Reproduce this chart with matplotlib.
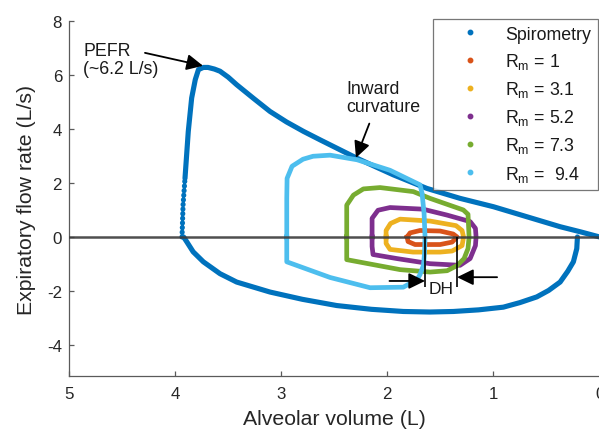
import matplotlib
matplotlib.use("Agg")
import matplotlib.pyplot as plt
from matplotlib.lines import Line2D

plt.rcParams['font.family'] = ['Liberation Sans', 'DejaVu Sans']
plt.rcParams['mathtext.fontset'] = 'custom'
plt.rcParams['mathtext.rm'] = 'Liberation Sans'
plt.rcParams['mathtext.it'] = 'Liberation Sans:italic'
plt.rcParams['axes.unicode_minus'] = False

# Spirometry: expiratory limb (volume decreasing) and inspiratory limb
spiro_exp_vol = [3.935, 3.925, 3.907, 3.876, 3.844, 3.81, 3.78, 3.734, 3.69, 3.63,
                 3.577, 3.50, 3.42, 3.26, 3.106, 2.95, 2.79, 2.63, 2.477, 2.288,
                 2.10, 1.943, 1.629, 1.315, 1.0, 0.686, 0.372, 0.18, 0.0]
spiro_exp_flow = [0.0, 1.2, 2.17, 3.91, 5.15, 5.83, 6.2, 6.28, 6.28, 6.22,
                  6.14, 5.92, 5.64, 5.13, 4.65, 4.26, 3.91, 3.59, 3.29, 2.92,
                  2.58, 2.30, 1.80, 1.43, 1.12, 0.75, 0.38, 0.19, 0.0]
spiro_insp_vol = [3.92, 3.89, 3.83, 3.734, 3.577, 3.42, 3.106, 2.80, 2.477, 2.15,
                  1.849, 1.60, 1.378, 1.14, 0.907, 0.75, 0.592, 0.48, 0.372, 0.30,
                  0.247, 0.215, 0.209]
spiro_insp_flow = [0.0, -0.18, -0.55, -0.92, -1.36, -1.67, -2.04, -2.31, -2.54, -2.68,
                   -2.76, -2.78, -2.76, -2.70, -2.60, -2.43, -2.22, -1.98, -1.67, -1.27,
                   -0.92, -0.43, 0.0]

# Simulated tidal loops for increasing Rm
rm1_vol = [1.814, 1.786, 1.692, 1.503, 1.38, 1.343, 1.39, 1.503, 1.739, 1.805, 1.814]
rm1_flow = [0.0, 0.15, 0.24, 0.22, 0.11, 0.0, -0.19, -0.28, -0.28, -0.17, 0.0]

rm3_vol = [2.012, 2.012, 1.97, 1.88, 1.598, 1.353, 1.296, 1.282, 1.296, 1.39,
           1.503, 1.758, 1.975, 2.012, 2.012]
rm3_flow = [0.0, 0.24, 0.5, 0.66, 0.59, 0.42, 0.24, 0.0, -0.32, -0.52,
            -0.56, -0.56, -0.46, -0.24, 0.0]

rm5_vol = [2.144, 2.144, 2.088, 1.975, 1.664, 1.437, 1.22, 1.17, 1.164, 1.17,
           1.22, 1.315, 1.598, 1.91, 2.135, 2.144, 2.144]
rm5_flow = [0.0, 0.69, 0.99, 1.09, 1.03, 0.81, 0.57, 0.32, 0.0, -0.32,
            -0.8, -1.05, -0.99, -0.8, -0.65, -0.35, 0.0]

rm7_vol = [2.383, 2.383, 2.32, 2.226, 2.069, 1.755, 1.598, 1.284, 1.24, 1.23,
           1.24, 1.277, 1.343, 1.437, 1.598, 1.88, 2.383, 2.383, 2.383]
rm7_flow = [0.0, 1.18, 1.55, 1.78, 1.83, 1.68, 1.43, 1.0, 0.84, 0.0,
            -0.43, -0.8, -1.06, -1.25, -1.30, -1.21, -0.84, -0.43, 0.0]

rm9_vol = [2.948, 2.948, 2.945, 2.898, 2.795, 2.70, 2.54, 2.286, 1.975, 1.692,
           1.673, 1.654, 1.645, 1.650, 1.66, 1.692, 1.72, 1.85, 2.163, 2.54,
           2.948, 2.948, 2.948]
rm9_flow = [0.0, 1.43, 2.17, 2.62, 2.88, 2.99, 3.03, 2.86, 2.47, 1.93,
            1.62, 0.87, 0.0, -0.61, -1.05, -1.39, -1.58, -1.86, -1.88, -1.5,
            -0.92, -0.43, 0.0]

loop_labels = [r'R$_\mathrm{m}$ = 1', r'R$_\mathrm{m}$ = 3.1', r'R$_\mathrm{m}$ = 5.2',
               r'R$_\mathrm{m}$ = 7.3', r'R$_\mathrm{m}$ =  9.4']
loop_colors = ['#D95319', '#EDB120', '#7E2F8E', '#77AC30', '#4DBEEE']
spiro_color = '#0072BD'

# Dynamic hyperinflation markers (end-expiratory volumes)
dh_vol = [1.645, 1.343]
dh_bottom = -1.84

x_ticks = [5, 4, 3, 2, 1, 0]
y_ticks = [-4, -2, 0, 2, 4, 6, 8]

fig = plt.figure(figsize=(5.99, 4.31), dpi=100)
ax = fig.add_axes([69 / 599, 1 - 377 / 431, 530.6 / 599, (377 - 22) / 431])

lw = 3.7
ax.plot(spiro_exp_vol[:3], spiro_exp_flow[:3], color=spiro_color, lw=lw,
        ls=(0, (0.05, 0.85)), dash_capstyle='round', zorder=2)
ax.plot(spiro_exp_vol[2:], spiro_exp_flow[2:], color=spiro_color, lw=lw,
        solid_joinstyle='round', solid_capstyle='round', zorder=2)
ax.plot(spiro_insp_vol, spiro_insp_flow, color=spiro_color, lw=lw,
        solid_joinstyle='round', solid_capstyle='round', zorder=2)

loops = [(rm1_vol, rm1_flow), (rm3_vol, rm3_flow), (rm5_vol, rm5_flow),
         (rm7_vol, rm7_flow), (rm9_vol, rm9_flow)]
for i, ((v, f), c) in enumerate(zip(loops, loop_colors)):
    ax.plot(v, f, color=c, lw=3.4, solid_joinstyle='round', zorder=3 + i)

ax.axhline(0, color='#3c3c3c', lw=1.8, alpha=0.9, zorder=10)

ax.vlines(dh_vol, dh_bottom, 0, color='k', lw=1.2, zorder=11)

arrow_kw = dict(arrowstyle='-|>,head_length=0.45,head_width=0.22', color='k',
                lw=1.3, shrinkA=0, shrinkB=0, mutation_scale=22)
ax.annotate('', xy=(dh_vol[0], -1.63), xytext=(1.98, -1.63),
            arrowprops=arrow_kw, zorder=12)
ax.annotate('', xy=(dh_vol[1], -1.49), xytext=(0.966, -1.49),
            arrowprops=arrow_kw, zorder=12)
ax.text(1.49, -1.92, 'DH', ha='center', va='center', fontsize=12.5, color='#1a1a1a',
        zorder=12)

ax.text(4.868, 7.22, 'PEFR\n(~6.2 L/s)', ha='left', va='top', fontsize=12.8,
        color='#1a1a1a', linespacing=1.05, zorder=12)
ax.annotate('', xy=(3.737, 6.34), xytext=(4.284, 6.82), arrowprops=arrow_kw, zorder=12)
ax.text(2.389, 5.80, 'Inward\ncurvature', ha='left', va='top', fontsize=12.8,
        color='#1a1a1a', linespacing=1.05, zorder=12)
ax.annotate('', xy=(2.296, 2.93), xytext=(2.17, 4.2), arrowprops=arrow_kw, zorder=12)

ax.set_xlim(5, 0)
ax.set_ylim(-5.15, 8)
ax.set_xticks(x_ticks)
ax.set_yticks(y_ticks)
ax.spines['top'].set_visible(False)
ax.spines['right'].set_visible(False)
for s in ('left', 'bottom'):
    ax.spines[s].set_color('#5a5a5a')
    ax.spines[s].set_linewidth(0.9)
ax.tick_params(direction='in', length=3.6, width=0.9, color='#5a5a5a',
               labelsize=12.2, labelcolor='#262626')
ax.tick_params(axis='x', pad=7)
ax.tick_params(axis='y', pad=5)
ax.set_xlabel('Alveolar volume (L)', fontsize=15.3, color='#262626', labelpad=6)
ax.set_ylabel('Expiratory flow rate (L/s)', fontsize=15.3, color='#262626', labelpad=8)

handles = [Line2D([], [], ls='none', marker='o', markersize=3.2, color=spiro_color)]
handles += [Line2D([], [], ls='none', marker='o', markersize=3.2, color=c)
            for c in loop_colors]
labels = ['Spirometry'] + loop_labels
leg = ax.legend(handles, labels, loc='upper right', bbox_to_anchor=(0.997, 1.006),
                borderaxespad=0, fontsize=12.8, frameon=True, fancybox=False,
                handlelength=3.4, handletextpad=0.3, borderpad=0.38,
                labelspacing=0.46)
leg.get_frame().set_edgecolor('#555555')
leg.get_frame().set_linewidth(0.9)
for t in leg.get_texts():
    t.set_color('#1a1a1a')

fig.savefig('out.png', dpi=100)
